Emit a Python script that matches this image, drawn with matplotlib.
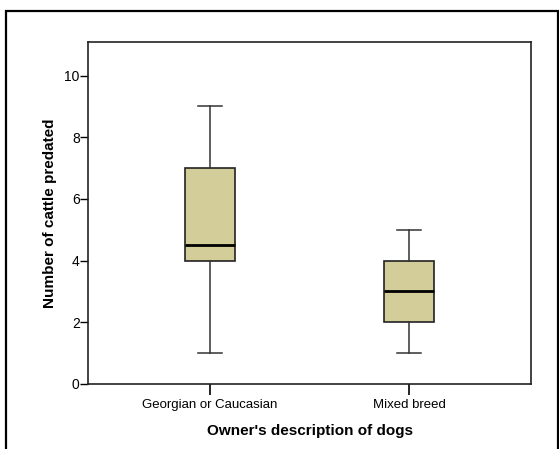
import matplotlib
matplotlib.use("Agg")
import matplotlib.pyplot as plt
from matplotlib.patches import Rectangle

plt.rcParams['font.family'] = ['Liberation Sans', 'DejaVu Sans']

# box plot summary values
groups = ["Georgian or Caucasian", "Mixed breed"]
whis_low = [1, 1]
q1 = [4, 2]
median = [4.5, 3]
q3 = [7, 4]
whis_high = [9, 5]
y_ticks = [0, 2, 4, 6, 8, 10]

stats = []
for i, name in enumerate(groups):
    stats.append(dict(label=name, whislo=whis_low[i], q1=q1[i], med=median[i],
                      q3=q3[i], whishi=whis_high[i], fliers=[]))

fig = plt.figure(figsize=(5.59, 4.49), dpi=100)
ax = fig.add_axes([0.1574, 0.1448, 0.7926, 0.7623])

ax.bxp(stats, positions=[1, 2], widths=0.25, patch_artist=True,
       boxprops=dict(facecolor="#D3CE99", edgecolor="#222222", linewidth=1.2),
       medianprops=dict(color="black", linewidth=2),
       whiskerprops=dict(color="#333333", linewidth=1.1),
       capprops=dict(color="#333333", linewidth=1.1),
       capwidths=0.125)

ax.set_xlim(0.387, 2.613)
ax.set_ylim(0, 11.1)
ax.set_yticks(y_ticks)
ax.set_yticklabels([str(t) for t in y_ticks])
ax.set_xticks([1, 2])
ax.set_xticklabels(groups)
ax.tick_params(axis="y", length=6, width=1, labelsize=10, pad=0, colors="black")
ax.tick_params(axis="x", length=8, width=1.2, labelsize=9.5, pad=3)
for s in ax.spines.values():
    s.set_linewidth(1.2)
    s.set_color("#222222")

ax.set_xlabel("Owner's description of dogs", fontsize=11, fontweight="bold", labelpad=9)
ax.set_ylabel("Number of cattle predated", fontsize=11, fontweight="bold", labelpad=5)

# outer frame around the chart
fig.patches.append(Rectangle((6 / 559, -0.05), 552 / 559, 1.05 - 11 / 449,
                             transform=fig.transFigure, fill=False,
                             edgecolor="black", linewidth=1.6))

fig.savefig("out.png", dpi=100)
